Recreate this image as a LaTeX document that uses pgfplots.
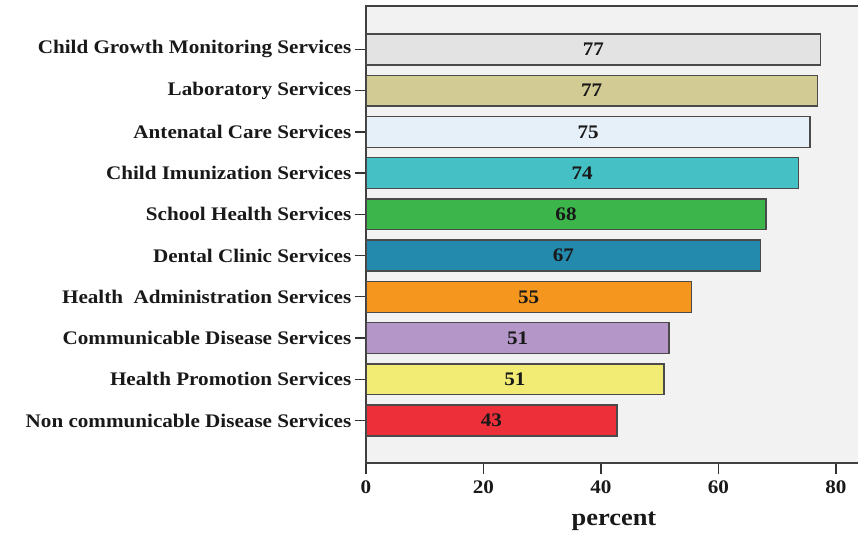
\documentclass[border=0pt]{standalone}
\usepackage{fontspec}
\setmainfont{Liberation Serif}[FakeStretch=1.1]
\usepackage{pgfplots}
\usepackage{pgfplotstable}
\pgfplotsset{compat=1.18}
\usetikzlibrary{calc}

\definecolor{bgc}{HTML}{F2F2F2}
\definecolor{barline}{HTML}{4A4A4A}
\definecolor{cgm}{HTML}{E3E3E3}
\definecolor{lab}{HTML}{D3CB94}
\definecolor{anc}{HTML}{E5F0F9}
\definecolor{imu}{HTML}{45C1C6}
\definecolor{sch}{HTML}{3CB54A}
\definecolor{den}{HTML}{238AAE}
\definecolor{adm}{HTML}{F5961E}
\definecolor{com}{HTML}{B497C8}
\definecolor{pro}{HTML}{F3EC74}
\definecolor{ncd}{HTML}{EC2F38}

% y = row (0 at the bottom), v = bar length, lbl = printed value
\pgfplotstableread{
y v lbl
9 77.4 77
8 76.8 77
7 75.6 75
6 73.6 74
5 68.1 68
4 67.2 67
3 55.4 55
2 51.6 51
1 50.7 51
0 42.7 43
}\svc

\begin{document}
\begin{tikzpicture}
\begin{axis}[
  name=ax,
  scale only axis,
  width=372pt, height=342.75pt,
  xmin=0, xmax=84.43,
  ymin=-1.03, ymax=10.053,
  xtick={0,20,40,60,80},
  ytick={0,...,9},
  yticklabels={Non communicable Disease Services,
    Health Promotion Services,
    Communicable Disease Services,
    Health\ \ Administration Services,
    Dental Clinic Services,
    School Health Services,
    Child Imunization Services,
    Antenatal Care Services,
    Laboratory Services,
    Child Growth Monitoring Services},
  xtick pos=lower, ytick pos=left,
  tick align=outside,
  major tick length=8.5pt,
  tick style={draw=black!80, line width=1pt},
  /pgf/number format/assume math mode=true,
  ticklabel style={font=\bfseries\fontsize{14.4}{16}\selectfont, text=black!90},
  yticklabel style={xshift=1pt},
  xticklabel style={yshift=-1pt},
  xlabel={percent},
  xlabel style={font=\bfseries\fontsize{18}{20}\selectfont, text=black!90, yshift=-7pt},
  axis background/.style={fill=bgc},
  axis line style={draw=black!75, line width=1.2pt},
]
\addplot[xbar, bar width=0.75, bar shift=0pt, fill=cgm, draw=barline, line width=1pt] coordinates {(77.4,9)};
\addplot[xbar, bar width=0.75, bar shift=0pt, fill=lab, draw=barline, line width=1pt] coordinates {(76.8,8)};
\addplot[xbar, bar width=0.75, bar shift=0pt, fill=anc, draw=barline, line width=1pt] coordinates {(75.6,7)};
\addplot[xbar, bar width=0.75, bar shift=0pt, fill=imu, draw=barline, line width=1pt] coordinates {(73.6,6)};
\addplot[xbar, bar width=0.75, bar shift=0pt, fill=sch, draw=barline, line width=1pt] coordinates {(68.1,5)};
\addplot[xbar, bar width=0.75, bar shift=0pt, fill=den, draw=barline, line width=1pt] coordinates {(67.2,4)};
\addplot[xbar, bar width=0.75, bar shift=0pt, fill=adm, draw=barline, line width=1pt] coordinates {(55.4,3)};
\addplot[xbar, bar width=0.75, bar shift=0pt, fill=com, draw=barline, line width=1pt] coordinates {(51.6,2)};
\addplot[xbar, bar width=0.75, bar shift=0pt, fill=pro, draw=barline, line width=1pt] coordinates {(50.7,1)};
\addplot[xbar, bar width=0.75, bar shift=0pt, fill=ncd, draw=barline, line width=1pt] coordinates {(42.7,0)};
% value labels in the middle of each bar
\addplot[draw=none, mark=none, nodes near coords, point meta=explicit symbolic,
  nodes near coords style={anchor=center, font=\bfseries\fontsize{14.4}{16}\selectfont, text=black!90}]
  table[x expr=\thisrow{v}/2, y=y, meta=lbl]{\svc};
\end{axis}
\pgfresetboundingbox
\path[use as bounding box] ($(ax.south west)+(-274.5pt,-57pt)$) rectangle ($(ax.north east)+(-3pt,4.5pt)$);
\end{tikzpicture}
\end{document}
